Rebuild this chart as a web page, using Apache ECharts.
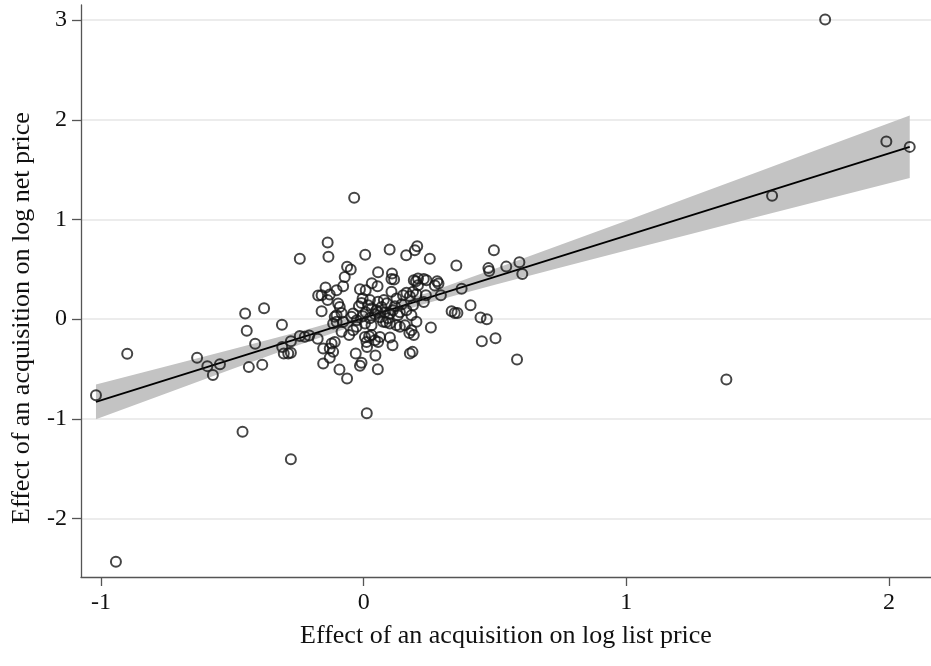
<!DOCTYPE html>
<html>
<head>
<meta charset="utf-8">
<script src="https://cdn.jsdelivr.net/npm/echarts@6/dist/echarts.min.js"></script>
<style>
  html, body { margin: 0; padding: 0; background: #fff; }
  #chart { width: 931px; height: 666px; }
</style>
</head>
<body>
<div id="chart"></div>
<script>
// Estimated effect of an acquisition on log list price (x) and log net price (y)
const listPriceEffect = [
  -1.019, -0.900, -0.943, -0.634, -0.595, -0.574, -0.547, -0.451, -0.445, -0.413,
  -0.437, -0.386, -0.379, -0.461, -0.311, -0.310, -0.304, -0.287, -0.277, -0.277,
  -0.277, -0.243, -0.224, -0.207, -0.175, -0.160, -0.154, -0.129, -0.154, -0.129,
  -0.122, -0.110, -0.116, -0.092, -0.063, -0.137, -0.134, -0.063, -0.049, -0.072,
  -0.078, -0.145, -0.103, -0.173, -0.160, -0.129, -0.137, -0.097, -0.091, -0.084,
  -0.103, -0.110, -0.040, -0.046, -0.036, 0.006, 0.099, 0.162, 0.195, 0.204,
  0.055, 0.053, 0.108, 0.106, 0.116, 0.106, -0.004, -0.008, 0.017, 0.055,
  0.068, 0.049, 0.125, 0.150, 0.163, 0.100, 0.252, 0.353, 0.496, 0.475,
  0.478, 0.543, 0.593, 0.604, 0.373, 0.294, 0.407, 0.335, 0.347, 0.357,
  0.445, 0.469, 0.450, 0.502, 0.584, 0.256, 0.201, 0.191, 0.186, 0.176,
  0.012, 0.054, -0.014, -0.008, -0.030, 0.045, -0.055, -0.040, -0.027, -0.084,
  -0.116, -0.103, -0.078, 0.005, 0.021, 0.011, 0.013, 0.030, 0.043, 0.055,
  0.062, 0.100, 0.110, 0.138, 0.157, 0.174, 0.182, 0.005, 0.030, 0.074,
  0.100, 0.125, 0.229, 0.237, 0.191, 0.199, 0.207, 0.229, 0.239, 0.280,
  0.285, 0.271, 0.188, 0.201, 0.163, 0.176, 0.207, 0.188, 0.182, 0.031,
  0.043, 0.062, 0.081, 0.092, 0.119, 0.130, 0.024, 0.008, -0.018, 0.077,
  0.145, 0.008, -0.014, 0.031, -0.243, 0.024, 0.088, 0.111, 0.054, -0.003,
  0.085, -0.026, 0.138, 1.381, 1.555, 1.757, 1.990, 2.079
];
const netPriceEffect = [
  -0.762, -0.348, -2.434, -0.388, -0.471, -0.559, -0.451, 0.057, -0.117, -0.246,
  -0.481, -0.456, 0.110, -1.130, -0.055, -0.278, -0.344, -0.344, -0.336, -0.221,
  -1.404, 0.605, -0.176, -0.165, -0.196, 0.080, -0.444, -0.388, -0.294, -0.294,
  -0.244, -0.228, -0.328, -0.505, -0.595, 0.769, 0.625, 0.525, 0.499, 0.424,
  0.331, 0.318, 0.291, 0.238, 0.241, 0.248, 0.191, 0.157, 0.123, 0.063,
  0.040, 0.023, 0.057, 0.023, 1.217, 0.645, 0.699, 0.642, 0.692, 0.732,
  0.471, 0.331, 0.458, 0.404, 0.398, 0.274, 0.208, 0.163, 0.140, 0.174,
  0.123, 0.090, 0.208, 0.241, 0.090, 0.057, 0.605, 0.539, 0.692, 0.512,
  0.484, 0.527, 0.572, 0.454, 0.306, 0.241, 0.140, 0.080, 0.063, 0.063,
  0.017, 0.000, -0.221, -0.191, -0.404, -0.083, -0.027, -0.160, -0.328, -0.344,
  -0.943, -0.502, -0.468, -0.438, -0.344, -0.364, -0.160, -0.110, -0.077, -0.127,
  -0.043, -0.027, -0.027, -0.178, -0.171, -0.228, -0.278, -0.160, -0.211, -0.228,
  -0.178, -0.184, -0.261, -0.077, -0.060, -0.140, -0.110, -0.043, -0.060, -0.027,
  -0.043, -0.060, 0.171, 0.241, 0.391, 0.381, 0.408, 0.404, 0.391, 0.381,
  0.358, 0.338, 0.274, 0.251, 0.264, 0.231, 0.341, 0.140, 0.040, 0.110,
  0.050, 0.020, 0.070, 0.010, 0.130, 0.040, 0.010, 0.070, 0.130, 0.191,
  0.150, 0.291, 0.301, 0.361, -0.168, 0.191, 0.160, 0.090, 0.070, 0.030,
  -0.030, -0.010, 0.070, -0.605, 1.237, 3.006, 1.782, 1.728
];

// Fitted line and its 95% confidence band
const fitX = [-1.019, 2.079];
const fitY = [-0.830, 1.728];
const bandX    = [-1.019, -0.75, -0.5, -0.25, 0, 0.25, 0.5, 0.75, 1.0, 1.25, 1.5, 1.75, 2.079];
const bandLow  = [-1.004, -0.742, -0.500, -0.261, -0.034, 0.166, 0.345, 0.517, 0.688, 0.857, 1.026, 1.194, 1.416];
const bandHigh = [-0.656, -0.473, -0.302, -0.128, 0.058, 0.271, 0.505, 0.746, 0.988, 1.232, 1.476, 1.721, 2.042];

// Axis tick values
const xTicks = [-1, 0, 1, 2];
const yTicks = [-2, -1, 0, 1, 2, 3];

const FONT = 'Liberation Serif';
const points = listPriceEffect.map((x, i) => [x, netPriceEffect[i]]);
const fitLine = fitX.map((x, i) => [x, fitY[i]]);

const chart = echarts.init(document.getElementById('chart'), null, { renderer: 'canvas' });

const axisCommon = {
  type: 'value',
  nameLocation: 'middle',
  nameGap: 46,
  axisLine: { show: true, onZero: false, lineStyle: { color: '#555', width: 1.3 } },
  axisTick: { show: true, length: 9, lineStyle: { color: '#555', width: 1.3 } },
  axisLabel: { fontFamily: FONT, fontSize: 24, color: '#111', margin: 14 }
};

chart.setOption({
  animation: false,
  backgroundColor: '#fff',
  grid: { left: 81, right: 0, top: 5, bottom: 89, containLabel: false },
  xAxis: Object.assign({}, axisCommon, {
    name: 'Effect of an acquisition on log list price',
    nameTextStyle: { fontFamily: FONT, fontSize: 26, color: '#111' },
    min: -1.076, max: 2.16,
    axisTick: Object.assign({}, axisCommon.axisTick, { customValues: xTicks }),
    axisLabel: Object.assign({}, axisCommon.axisLabel, { customValues: xTicks }),
    splitLine: { show: false }
  }),
  yAxis: Object.assign({}, axisCommon, {
    name: 'Effect of an acquisition on log net price',
    nameGap: 46,
    nameTextStyle: { fontFamily: FONT, fontSize: 26, color: '#111', padding: [0, 54, 0, 0] },
    min: -2.586, max: 3.151,
    axisTick: Object.assign({}, axisCommon.axisTick, { customValues: yTicks }),
    axisLabel: Object.assign({}, axisCommon.axisLabel, { customValues: yTicks }),
    splitLine: { show: true, lineStyle: { color: '#e6e6e6', width: 1.6 } }
  }),
  series: [
    {
      type: 'custom',
      silent: true,
      z: 1,
      data: [[bandX[0], bandLow[0]]],
      renderItem: function (params, api) {
        const pts = [];
        for (let i = 0; i < bandX.length; i++) pts.push(api.coord([bandX[i], bandHigh[i]]));
        for (let i = bandX.length - 1; i >= 0; i--) pts.push(api.coord([bandX[i], bandLow[i]]));
        return { type: 'polygon', shape: { points: pts }, style: { fill: '#c3c3c3' } };
      }
    },
    {
      type: 'line',
      z: 2,
      data: fitLine,
      symbol: 'none',
      silent: true,
      lineStyle: { color: '#000', width: 1.8 }
    },
    {
      type: 'scatter',
      z: 3,
      data: points,
      symbol: 'circle',
      symbolSize: 10,
      itemStyle: { color: 'rgba(0,0,0,0)', borderColor: '#161616', borderWidth: 2 }
    }
  ]
});
</script>
</body>
</html>
